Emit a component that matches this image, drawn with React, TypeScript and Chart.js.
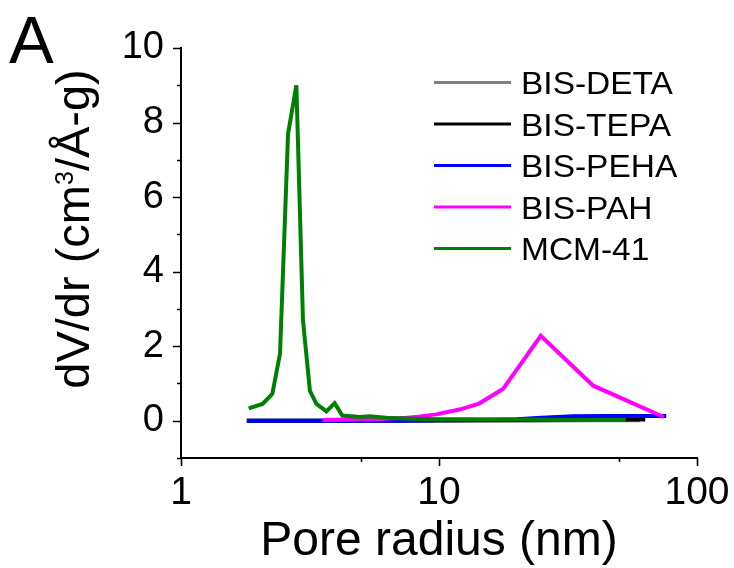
import React, { useEffect, useRef } from "react";
import { Chart, registerables } from "chart.js";

Chart.register(...registerables);

// ---------- data ----------
const SERIES_NAMES = ["BIS-DETA", "BIS-TEPA", "BIS-PEHA", "BIS-PAH", "MCM-41"];
const SERIES_COLORS = ["#808080", "#000000", "#0000FF", "#FF00FF", "#008000"];

const DETA_X = [1.8, 3, 5, 10, 20, 40, 60];
const DETA_Y = [0, 0, 0, 0, 0, 0.01, 0.01];

const TEPA_X = [1.8, 3, 5, 10, 20, 30, 45, 63];
const TEPA_Y = [0, 0, 0, 0.01, 0.02, 0.03, 0.03, 0.03];

const PEHA_X = [1.8, 2.5, 3.5, 5, 7, 10, 14, 20, 25, 33, 45, 60, 76];
const PEHA_Y = [0, 0, 0, 0, 0, 0.01, 0.02, 0.04, 0.08, 0.12, 0.13, 0.13, 0.13];

const PAH_X = [3.54, 4.5, 5.5, 7.2, 8.3, 9.75, 12, 14.3, 17.7, 24.8, 39.6, 74.3];
const PAH_Y = [0.02, 0.03, 0.04, 0.07, 0.11, 0.17, 0.3, 0.46, 0.85, 2.28, 0.94, 0.1];

const MCM_X = [1.83, 2.07, 2.26, 2.42, 2.6, 2.8, 2.97, 3.16, 3.35, 3.66, 3.94, 4.22, 4.93, 5.39, 6.5, 8, 10, 13, 17, 22, 30, 40, 53];
const MCM_Y = [0.33, 0.45, 0.72, 1.8, 7.7, 9.0, 2.7, 0.8, 0.45, 0.25, 0.47, 0.14, 0.1, 0.12, 0.07, 0.05, 0.04, 0.04, 0.03, 0.03, 0.02, 0.02, 0.02];

const SERIES_X = [DETA_X, TEPA_X, PEHA_X, PAH_X, MCM_X];
const SERIES_Y = [DETA_Y, TEPA_Y, PEHA_Y, PAH_Y, MCM_Y];

const X_TICKS = [1, 10, 100];
const X_MINOR = [5, 50];
const Y_TICKS = [0, 2, 4, 6, 8, 10];
const Y_MINOR = [-1, 1, 3, 5, 7, 9];

const X_TITLE = "Pore radius (nm)";
const Y_TITLE_MAIN = "dV/dr (cm";
const Y_TITLE_SUP = "3";
const Y_TITLE_END = "/Å-g)";
const PANEL_LABEL = "A";

const FONT = "'Liberation Sans', Arial, Helvetica, sans-serif";

const decorPlugin = {
  id: "decor",
  afterDraw(chart: any) {
    const ctx = chart.ctx as CanvasRenderingContext2D;
    const xs = chart.scales.x;
    const ys = chart.scales.y;
    const area = chart.chartArea;

    // tick marks
    ctx.save();
    ctx.strokeStyle = "#000";
    ctx.lineWidth = 1.6;
    ctx.beginPath();
    X_TICKS.forEach((v) => {
      const px = Math.round(xs.getPixelForValue(v)) + 0.5;
      ctx.moveTo(px, area.bottom);
      ctx.lineTo(px, area.bottom + 8);
    });
    X_MINOR.forEach((v) => {
      const px = Math.round(xs.getPixelForValue(v)) + 0.5;
      ctx.moveTo(px, area.bottom);
      ctx.lineTo(px, area.bottom + 4);
    });
    Y_TICKS.forEach((v) => {
      const py = Math.round(ys.getPixelForValue(v)) + 0.5;
      ctx.moveTo(area.left, py);
      ctx.lineTo(area.left - 8, py);
    });
    Y_MINOR.forEach((v) => {
      const py = Math.round(ys.getPixelForValue(v)) + 0.5;
      ctx.moveTo(area.left, py);
      ctx.lineTo(area.left - 4, py);
    });
    ctx.stroke();
    ctx.restore();

    // legend
    ctx.save();
    SERIES_NAMES.forEach((name, i) => {
      const ly = 82.5 + i * 41.5;
      ctx.strokeStyle = SERIES_COLORS[i];
      ctx.lineWidth = 3;
      ctx.beginPath();
      ctx.moveTo(434, ly);
      ctx.lineTo(511, ly);
      ctx.stroke();
      ctx.fillStyle = "#000";
      ctx.font = `31px ${FONT}`;
      ctx.textAlign = "left";
      ctx.textBaseline = "alphabetic";
      ctx.save();
      ctx.translate(521, ly + 11.5);
      ctx.scale(1.08, 1);
      ctx.fillText(name, 0, 0);
      ctx.restore();
    });
    ctx.restore();

    // y title (rotated, with superscript)
    ctx.save();
    ctx.fillStyle = "#000";
    ctx.textBaseline = "alphabetic";
    ctx.textAlign = "left";
    const mainFont = `47px ${FONT}`;
    const supFont = `25px ${FONT}`;
    ctx.font = mainFont;
    const w1 = ctx.measureText(Y_TITLE_MAIN).width;
    const w3 = ctx.measureText(Y_TITLE_END).width;
    ctx.font = supFont;
    const w2 = ctx.measureText(Y_TITLE_SUP).width;
    const total = w1 + w2 + w3;
    ctx.translate(89, 229);
    ctx.rotate(-Math.PI / 2);
    let x0 = -total / 2;
    ctx.font = mainFont;
    ctx.fillText(Y_TITLE_MAIN, x0, 0);
    x0 += w1;
    ctx.font = supFont;
    ctx.fillText(Y_TITLE_SUP, x0, -16);
    x0 += w2;
    ctx.font = mainFont;
    ctx.fillText(Y_TITLE_END, x0, 0);
    ctx.restore();

    // panel label
    ctx.save();
    ctx.fillStyle = "#000";
    ctx.font = `67px ${FONT}`;
    ctx.textAlign = "left";
    ctx.textBaseline = "alphabetic";
    ctx.fillText(PANEL_LABEL, 9, 63);
    ctx.restore();
  },
};

export default function App() {
  const canvasRef = useRef<HTMLCanvasElement | null>(null);

  useEffect(() => {
    document.body.style.margin = "0";
    const canvas = canvasRef.current;
    if (!canvas) return;

    const datasets = SERIES_NAMES.map((name, i) => ({
      label: name,
      data: SERIES_X[i].map((x, j) => ({ x, y: SERIES_Y[i][j] })),
      borderColor: SERIES_COLORS[i],
      backgroundColor: SERIES_COLORS[i],
      borderWidth: 4,
      pointRadius: 0,
      tension: 0,
      fill: false,
      order: SERIES_NAMES.length - 1 - i,
    }));

    const chart = new Chart(canvas, {
      type: "line",
      data: { datasets },
      options: {
        responsive: false,
        animation: false,
        devicePixelRatio: 1,
        layout: { padding: { top: 48, right: 37, left: 0, bottom: 0 } },
        plugins: {
          legend: { display: false },
          tooltip: { enabled: false },
          title: { display: false },
        },
        scales: {
          x: {
            type: "logarithmic",
            position: "bottom",
            min: 1,
            max: 100,
            afterBuildTicks: (s: any) => {
              s.ticks = X_TICKS.map((v) => ({ value: v }));
            },
            afterFit: (s: any) => {
              s.height = 110;
              s.paddingLeft = 0;
              s.paddingRight = 0;
            },
            grid: { display: false, drawTicks: false },
            border: { display: true, color: "#000", width: 2 },
            ticks: {
              autoSkip: false,
              maxRotation: 0,
              padding: 12,
              color: "#000",
              font: { family: FONT, size: 39 },
              callback: (v: any) => String(v),
            },
            title: {
              display: true,
              text: X_TITLE,
              color: "#000",
              font: { family: FONT, size: 48, lineHeight: 1 },
              padding: { top: 0, bottom: 2 },
            },
          },
          y: {
            type: "linear",
            min: -1,
            max: 10,
            afterBuildTicks: (s: any) => {
              s.ticks = Y_TICKS.map((v) => ({ value: v }));
            },
            afterFit: (s: any) => {
              s.width = 181;
              s.paddingTop = 0;
              s.paddingBottom = 0;
            },
            grid: { display: false, drawTicks: false },
            border: { display: true, color: "#000", width: 2 },
            ticks: {
              autoSkip: false,
              padding: 17,
              color: "#000",
              font: { family: FONT, size: 38 },
              callback: (v: any) => String(v),
            },
          },
        },
      } as any,
      plugins: [decorPlugin],
    });

    return () => {
      chart.destroy();
    };
  }, []);

  return (
    <div style={{ width: 734, height: 568, position: "relative", background: "#fff" }}>
      <canvas ref={canvasRef} width={734} height={568} style={{ display: "block" }} />
    </div>
  );
}
